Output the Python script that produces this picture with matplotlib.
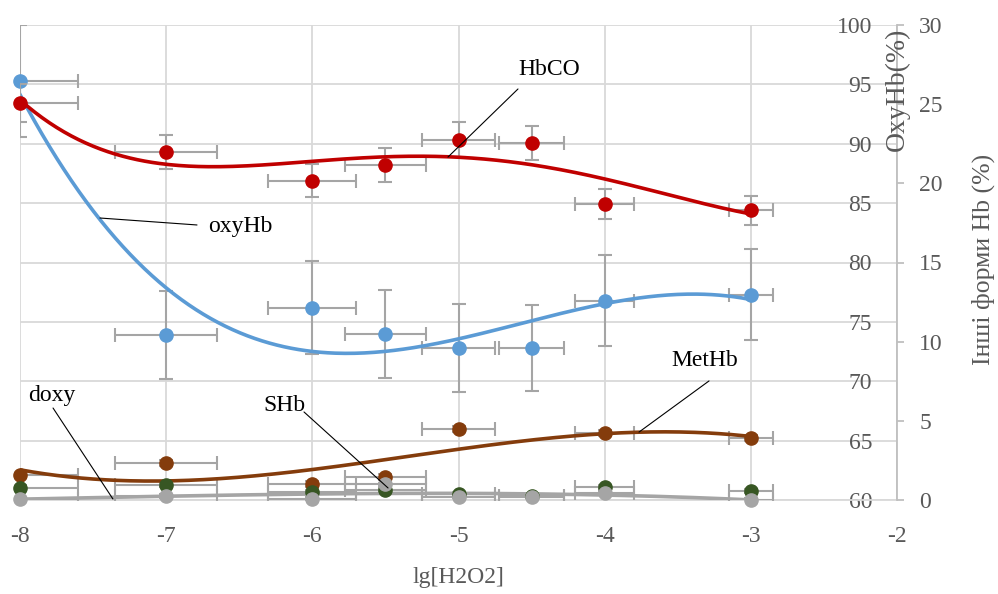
import numpy as np
import matplotlib
matplotlib.use('Agg')
import matplotlib.pyplot as plt

plt.rcParams['font.family'] = ['Liberation Serif', 'DejaVu Serif']

# lg of H2O2 concentration
lg_h2o2 = [-8, -7, -6, -5.5, -5, -4.5, -4, -3]
x_err = [0.4, 0.35, 0.3, 0.275, 0.25, 0.225, 0.2, 0.15]

# OxyHb, % (left scale 60..100)
oxyhb = [95.3, 73.9, 76.2, 74.0, 72.8, 72.8, 76.8, 77.3]
oxyhb_err = [4.7, 3.7, 3.9, 3.7, 3.7, 3.6, 3.8, 3.8]

# other forms, % (right scale 0..30); nan = no point on the chart
hbco = [25.1, 22.0, 20.15, 21.15, 22.75, 22.55, 18.7, 18.3]
hbco_err = [1.2, 1.07, 1.04, 1.07, 1.1, 1.07, 0.95, 0.92]
methb = [1.58, 2.34, 1.01, 1.45, 4.48, np.nan, 4.23, 3.9]
methb_err = [0.2, 0.2, 0.2, 0.2, 0.2, 0.2, 0.2, 0.2]
shb = [0.77, 0.95, 0.5, 0.63, 0.38, 0.25, 0.82, 0.57]
shb_err = [0.15, 0.15, 0.15, 0.15, 0.15, 0.15, 0.15, 0.15]
doxy = [0.06, 0.25, 0.06, 1.0, 0.2, 0.2, 0.44, 0.0]
doxy_err = [0.1, 0.1, 0.1, 0.1, 0.1, 0.1, 0.1, 0.1]

C_BLUE = '#5B9BD5'
C_RED = '#C00000'
C_BROWN = '#843C0C'
C_GREEN = '#375623'
C_GRAY = '#A5A5A5'
C_ERR = '#A5A5A5'
C_GRID = '#D9D9D9'
C_TXT = '#595959'

fig = plt.figure(figsize=(9.98, 5.94), dpi=100)
ax = fig.add_axes([20/998, 1-500/594, 877/998, 475/594])
ax2 = ax.twinx()

x = np.array(lg_h2o2)
xs = np.linspace(x.min(), x.max(), 300)


def draw(a, y, yerr, color, order=3, zo=3):
  y = np.array(y, dtype=float)
  ok = ~np.isnan(y)
  a.errorbar(x[ok], y[ok], yerr=np.array(yerr)[ok], xerr=np.array(x_err)[ok],
             fmt='none', ecolor=C_ERR, elinewidth=1.5, capsize=4.7,
             capthick=1.5, zorder=zo)
  if order:
    p = np.polyfit(x[ok], y[ok], order)
    a.plot(xs, np.polyval(p, xs), color=color, lw=2.6, zorder=zo+1)
  a.plot(x[ok], y[ok], 'o', color=color, ms=9.5, mec=color, zorder=zo+2,
         clip_on=False)


draw(ax, oxyhb, oxyhb_err, C_BLUE)
draw(ax2, hbco, hbco_err, C_RED, order=4)
draw(ax2, methb, methb_err, C_BROWN)
draw(ax2, shb, shb_err, C_GREEN, order=0)
draw(ax2, doxy, doxy_err, C_GRAY)

ax.set_xlim(-8, -2)
ax.set_ylim(60, 100)
ax2.set_ylim(0, 30)
ax.set_xticks(np.arange(-8, -1, 1))
ax.set_yticks(np.arange(60, 101, 5))
ax2.set_yticks(np.arange(0, 31, 5))
ax.grid(True, color=C_GRID, lw=1.3)
ax.set_axisbelow(True)

for s in ['top', 'right']:
  ax.spines[s].set_visible(False)
ax.spines['left'].set_position(('data', -2))
ax.spines['left'].set_visible(False)
ax.spines['bottom'].set_color(C_GRID)
ax.spines['bottom'].set_linewidth(1.3)
for s in ['top', 'left', 'bottom']:
  ax2.spines[s].set_visible(False)
ax2.spines['right'].set_color('#BFBFBF')
ax2.spines['right'].set_linewidth(1.3)

ax.tick_params(axis='y', length=0, pad=18, labelsize=17, labelcolor=C_TXT)
ax.tick_params(axis='x', length=0, pad=19, labelsize=17, labelcolor=C_TXT)
ax2.tick_params(axis='y', length=5, width=1.3, color='#BFBFBF', pad=11,
                labelsize=17, labelcolor=C_TXT)
ax.set_xticklabels(['-8', '-7', '-6', '-5', '-4', '-3', '-2'])

fig.text(458/998, 1-577/594, 'lg[H2O2]', ha='center', va='center',
         fontsize=17, color=C_TXT)
fig.text(897/998, 1-89/594, 'OxyHb(%)', ha='center', va='center',
         rotation=90, fontsize=20, color=C_TXT)
fig.text(983/998, 1-259/594, 'Інші форми Hb (%)', ha='center', va='center',
         rotation=90, fontsize=18.5, color=C_TXT)

# labels with leader lines
lead = dict(arrowstyle='-', color='black', lw=0.8, shrinkA=0, shrinkB=0)
ax2.text(-4.381, 27.16, 'HbCO', ha='center', va='center', fontsize=17, zorder=10)
ax2.annotate('', xy=(-5.072, 21.66), xytext=(-4.593, 25.96), arrowprops=lead, zorder=10)
ax2.text(-6.495, 17.3, 'oxyHb', ha='center', va='center', fontsize=17, zorder=10)
ax2.annotate('', xy=(-7.453, 17.81), xytext=(-6.789, 17.37), arrowprops=lead, zorder=10)
ax2.text(-7.781, 6.57, 'doxy', ha='center', va='center', fontsize=17, zorder=10)
ax2.annotate('', xy=(-7.364, 0.06), xytext=(-7.774, 5.81), arrowprops=lead, zorder=10)
ax2.text(-6.194, 5.94, 'SHb', ha='center', va='center', fontsize=17, zorder=10)
ax2.annotate('', xy=(-5.482, 0.76), xytext=(-6.057, 5.56), arrowprops=lead, zorder=10)
ax2.text(-3.314, 8.84, 'MetHb', ha='center', va='center', fontsize=17, zorder=10)
ax2.annotate('', xy=(-3.765, 4.29), xytext=(-3.286, 7.52), arrowprops=lead, zorder=10)

fig.savefig('out.png', dpi=100)
